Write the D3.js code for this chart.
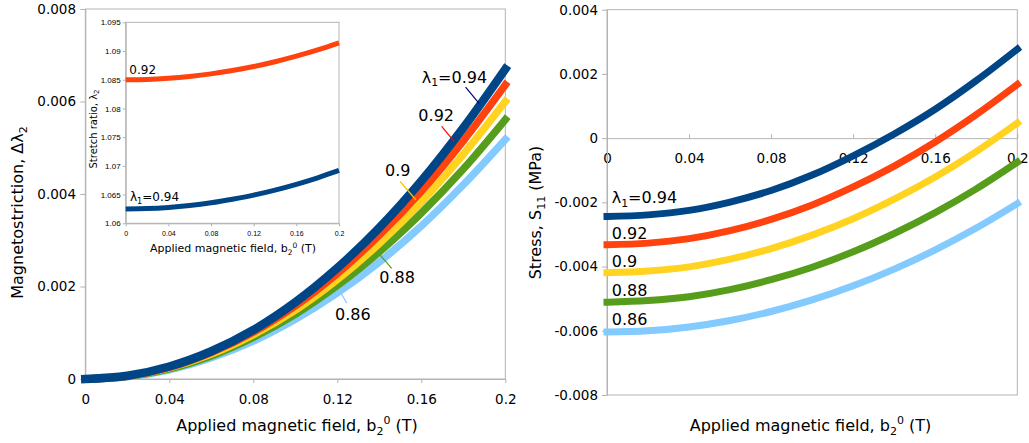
<!DOCTYPE html>
<html><head><meta charset="utf-8">
<script src="https://cdn.jsdelivr.net/npm/d3@7"></script>
<style>
body{margin:0;background:#fff}
svg{display:block;font-family:"DejaVu Sans",sans-serif}
</style>
</head><body>
<svg id="c" width="1029" height="443"></svg>
<script>
// ---------- data ----------
const field = [0, 0.02, 0.04, 0.06, 0.08, 0.10, 0.12, 0.14, 0.16, 0.18, 0.20];
const lambda1 = ["0.94", "0.92", "0.9", "0.88", "0.86"];
const seriesColors = ["#004586", "#ff420e", "#ffd320", "#579d1c", "#83caff"];
const leaderColors = ["#000080", "#ff0000", "#ffc000", "#579d1c", "#83caff"];

// Magnetostriction Δλ2 (left chart)
const magneto094 = [0, 0.00007, 0.00027, 0.00060, 0.00106, 0.00166, 0.00240, 0.00327, 0.00428, 0.00543, 0.00670];
const magneto092 = [0, 0.00006, 0.00025, 0.00057, 0.00101, 0.00158, 0.00228, 0.00311, 0.00406, 0.00515, 0.00636];
const magneto090 = [0, 0.00006, 0.00024, 0.00054, 0.00096, 0.00149, 0.00215, 0.00293, 0.00383, 0.00486, 0.00600];
const magneto088 = [0, 0.00006, 0.00022, 0.00050, 0.00090, 0.00140, 0.00202, 0.00275, 0.00359, 0.00454, 0.00561];
const magneto086 = [0, 0.00005, 0.00020, 0.00046, 0.00082, 0.00129, 0.00186, 0.00253, 0.00331, 0.00420, 0.00518];

// Stretch ratio λ2 (inset)
const stretch092 = [1.0850, 1.08506, 1.08526, 1.08558, 1.08602, 1.0866, 1.0873, 1.08814, 1.0891, 1.09018, 1.0914];
const stretch094 = [1.0625, 1.06257, 1.06277, 1.0631, 1.06357, 1.06419, 1.06491, 1.06578, 1.06679, 1.06793, 1.0692];

// Stress S11 (right chart)
const stress094 = [-0.00244, -0.00239, -0.00225, -0.00199, -0.00163, -0.00115, -0.00055, 0.00013, 0.00090, 0.00179, 0.00277];
const stress092 = [-0.00332, -0.00327, -0.00313, -0.00288, -0.00253, -0.00208, -0.00152, -0.00087, -0.00012, 0.00073, 0.00167];
const stress090 = [-0.00419, -0.00414, -0.00401, -0.00377, -0.00344, -0.00302, -0.00251, -0.00190, -0.00121, -0.00042, 0.00047];
const stress088 = [-0.00511, -0.00506, -0.00494, -0.00472, -0.00441, -0.00402, -0.00354, -0.00297, -0.00232, -0.00158, -0.00075];
const stress086 = [-0.00604, -0.00600, -0.00588, -0.00568, -0.00540, -0.00504, -0.00460, -0.00408, -0.00348, -0.00280, -0.00204];

// tick labels
const fieldTicks = [0, 0.04, 0.08, 0.12, 0.16, 0.2];
const fieldTickLabels = ["0", "0.04", "0.08", "0.12", "0.16", "0.2"];
const magnetoTicks = [0, 0.002, 0.004, 0.006, 0.008];
const magnetoTickLabels = ["0", "0.002", "0.004", "0.006", "0.008"];
const stretchTicks = [1.06, 1.065, 1.07, 1.075, 1.08, 1.085, 1.09, 1.095];
const stretchTickLabels = ["1.06", "1.065", "1.07", "1.075", "1.08", "1.085", "1.09", "1.095"];
const stressTicks = [-0.008, -0.006, -0.004, -0.002, 0, 0.002, 0.004];
const stressTickLabels = ["-0.008", "-0.006", "-0.004", "-0.002", "0", "0.002", "0.004"];

// annotation anchors (data units)
const leftLabelAt = [[0.1602, 0.00641], [0.1586, 0.00558], [0.1427, 0.00440], [0.1400, 0.00207], [0.1189, 0.00128]];
const leftLeaders = [
  [[0.1811, 0.00631], [0.1875, 0.00596]],
  [[0.1697, 0.00546], [0.1757, 0.00513]],
  [[0.1499, 0.00427], [0.1575, 0.00387]],
  [[0.1459, 0.00239], [0.1400, 0.00270]],
  [[0.1245, 0.00164], [0.1210, 0.00192]]
];
const rightLabelAt = [[0.0023, -0.00202], [0.0023, -0.00313], [0.0023, -0.00402], [0.0023, -0.00492], [0.0023, -0.00583]];
const insetLabelAt = [[0.0040, 1.0638], [0.0034, 1.0860]];

// ---------- drawing ----------
const svg = d3.select("#c");
svg.append("rect").attr("width", 1029).attr("height", 443).attr("fill", "#fff");
const GRID = "#b3b3b3";

const xL = d3.scaleLinear([0, 0.2], [85.3, 505.3]);
const yL = d3.scaleLinear([0, 0.008], [379, 9]);
const xI = d3.scaleLinear([0, 0.2], [125.7, 339]);
const yI = d3.scaleLinear([1.06, 1.095], [223.3, 22.3]);
const xR = d3.scaleLinear([0, 0.2], [607, 1017.3]);
const yR = d3.scaleLinear([-0.008, 0.004], [395, 9.7]);

function styleAxis(g, size) {
  g.select(".domain").attr("stroke", GRID);
  g.selectAll(".tick line").attr("stroke", GRID);
  g.selectAll(".tick text").attr("fill", "#000").attr("font-size", size).attr("font-family", "DejaVu Sans");
}
function fmt(labels, ticks) { return (d) => labels[ticks.indexOf(d)]; }

const lineGen = (x, y) => d3.line().x((d, i) => x(field[i])).y(d => y(d)).curve(d3.curveCatmullRom);

// ===== LEFT CHART =====
svg.append("rect").attr("x", xL(0)).attr("y", yL(0.008)).attr("width", xL(0.2) - xL(0)).attr("height", yL(0) - yL(0.008))
  .attr("fill", "none").attr("stroke", GRID);
svg.append("g").attr("transform", `translate(0,${yL(0)})`)
  .call(d3.axisBottom(xL).tickValues(fieldTicks).tickFormat(fmt(fieldTickLabels, fieldTicks)).tickSizeInner(4).tickSizeOuter(0).tickPadding(11))
  .call(g => styleAxis(g, 13.5));
svg.append("g").attr("transform", `translate(${xL(0)},0)`)
  .call(d3.axisLeft(yL).tickValues(magnetoTicks).tickFormat(fmt(magnetoTickLabels, magnetoTicks)).tickSizeInner(5).tickSizeOuter(0).tickPadding(4.3))
  .call(g => styleAxis(g, 13.5));

const magnetoSeries = [magneto094, magneto092, magneto090, magneto088, magneto086];
for (let i = magnetoSeries.length - 1; i >= 0; i--) {
  svg.append("path").attr("d", lineGen(xL, yL)(magnetoSeries[i]))
    .attr("fill", "none").attr("stroke", seriesColors[i]).attr("stroke-width", i === 0 ? 8.5 : 7.5).attr("stroke-linecap", "square");
}
// leaders + labels
leftLeaders.forEach((seg, i) => {
  svg.append("line").attr("x1", xL(seg[0][0])).attr("y1", yL(seg[0][1])).attr("x2", xL(seg[1][0])).attr("y2", yL(seg[1][1]))
    .attr("stroke", leaderColors[i]).attr("stroke-width", 1.2);
});
function seriesLabel(sel, i, fs) {
  if (i === 0) {
    sel.append("tspan").text("λ");
    sel.append("tspan").text("1").attr("font-size", fs * 0.68).attr("dy", fs * 0.22);
    sel.append("tspan").text("=0.94").attr("dy", -fs * 0.22);
  } else sel.text(lambda1[i]);
}
leftLabelAt.forEach((p, i) => {
  const t = svg.append("text").attr("x", xL(p[0])).attr("y", yL(p[1])).attr("font-size", 16).attr("fill", "#000");
  seriesLabel(t, i, 16);
});

// inset
svg.append("rect").attr("x", xI(0)).attr("y", yI(1.095)).attr("width", xI(0.2) - xI(0)).attr("height", yI(1.06) - yI(1.095))
  .attr("fill", "#fff").attr("stroke", GRID);
svg.append("g").attr("transform", `translate(0,${yI(1.06)})`)
  .call(d3.axisBottom(xI).tickValues(fieldTicks).tickFormat(fmt(fieldTickLabels, fieldTicks)).tickSizeInner(3).tickSizeOuter(0).tickPadding(4.6))
  .call(g => styleAxis(g, 7)).call(g => g.selectAll(".tick text").attr("font-family", "Liberation Sans"));
svg.append("g").attr("transform", `translate(${xI(0)},0)`)
  .call(d3.axisLeft(yI).tickValues(stretchTicks).tickFormat(fmt(stretchTickLabels, stretchTicks)).tickSizeInner(3).tickSizeOuter(0).tickPadding(2))
  .call(g => styleAxis(g, 8)).call(g => g.selectAll(".tick text").attr("font-family", "Liberation Sans"));
const stretchSeries = [stretch094, stretch092];
stretchSeries.forEach((s, i) => {
  svg.append("path").attr("d", lineGen(xI, yI)(s)).attr("fill", "none").attr("stroke", seriesColors[i]).attr("stroke-width", 5);
});
insetLabelAt.forEach((p, i) => {
  const t = svg.append("text").attr("x", xI(p[0])).attr("y", yI(p[1])).attr("font-size", 12).attr("fill", "#000");
  seriesLabel(t, i, 12);
});
{
  const t = svg.append("text").attr("x", 233).attr("y", 252).attr("text-anchor", "middle").attr("font-size", 11);
  t.append("tspan").text("Applied magnetic field, b");
  t.append("tspan").text("2").attr("font-size", 7.5).attr("dy", 2.5);
  t.append("tspan").text("0").attr("font-size", 7.5).attr("dy", -7);
  t.append("tspan").text(" (T)").attr("dy", 4.5);
  const y = svg.append("text").attr("transform", "translate(93,129) rotate(-90)").attr("dy", "0.35em").attr("text-anchor", "middle").attr("font-size", 10);
  y.append("tspan").text("Stretch ratio, λ");
  y.append("tspan").text("2").attr("font-size", 7).attr("dy", 2.5);
}

// left axis titles
{
  const t = svg.append("text").attr("x", 297).attr("y", 430.5).attr("text-anchor", "middle").attr("font-size", 16);
  t.append("tspan").text("Applied magnetic field, b");
  t.append("tspan").text("2").attr("font-size", 11).attr("dy", 4);
  t.append("tspan").text("0").attr("font-size", 11).attr("dy", -10.5);
  t.append("tspan").text(" (T)").attr("dy", 6.5);
  const y = svg.append("text").attr("transform", "translate(17,212.5) rotate(-90)").attr("dy", "0.35em").attr("text-anchor", "middle").attr("font-size", 16);
  y.append("tspan").text("Magnetostriction, Δλ");
  y.append("tspan").text("2").attr("font-size", 11).attr("dy", 4);
}

// ===== RIGHT CHART =====
svg.append("rect").attr("x", xR(0)).attr("y", yR(0.004)).attr("width", xR(0.2) - xR(0)).attr("height", yR(-0.008) - yR(0.004))
  .attr("fill", "none").attr("stroke", GRID);
svg.append("g").attr("transform", `translate(0,${yR(0)})`)
  .call(d3.axisBottom(xR).tickValues(fieldTicks).tickFormat(fmt(fieldTickLabels, fieldTicks)).tickSizeInner(-4).tickSizeOuter(0).tickPadding(15))
  .call(g => styleAxis(g, 13.5));
svg.append("g").attr("transform", `translate(${xR(0)},0)`)
  .call(d3.axisLeft(yR).tickValues(stressTicks).tickFormat(fmt(stressTickLabels, stressTicks)).tickSizeInner(5).tickSizeOuter(0).tickPadding(4))
  .call(g => styleAxis(g, 13.5));

const stressSeries = [stress094, stress092, stress090, stress088, stress086];
stressSeries.forEach((s, i) => {
  svg.append("path").attr("d", lineGen(xR, yR)(s)).attr("fill", "none").attr("stroke", seriesColors[i]).attr("stroke-width", 7).attr("stroke-linecap", "square");
});
rightLabelAt.forEach((p, i) => {
  const t = svg.append("text").attr("x", xR(p[0])).attr("y", yR(p[1])).attr("font-size", 16).attr("fill", "#000");
  seriesLabel(t, i, 16);
});
{
  const t = svg.append("text").attr("x", 810.5).attr("y", 430.5).attr("text-anchor", "middle").attr("font-size", 16);
  t.append("tspan").text("Applied magnetic field, b");
  t.append("tspan").text("2").attr("font-size", 11).attr("dy", 4);
  t.append("tspan").text("0").attr("font-size", 11).attr("dy", -10.5);
  t.append("tspan").text(" (T)").attr("dy", 6.5);
  const y = svg.append("text").attr("transform", "translate(535,212.5) rotate(-90)").attr("dy", "0.35em").attr("text-anchor", "middle").attr("font-size", 16);
  y.append("tspan").text("Stress, S");
  y.append("tspan").text("11").attr("font-size", 11).attr("dy", 4);
  y.append("tspan").text(" (MPa)").attr("dy", -4);
}
</script>
</body></html>
